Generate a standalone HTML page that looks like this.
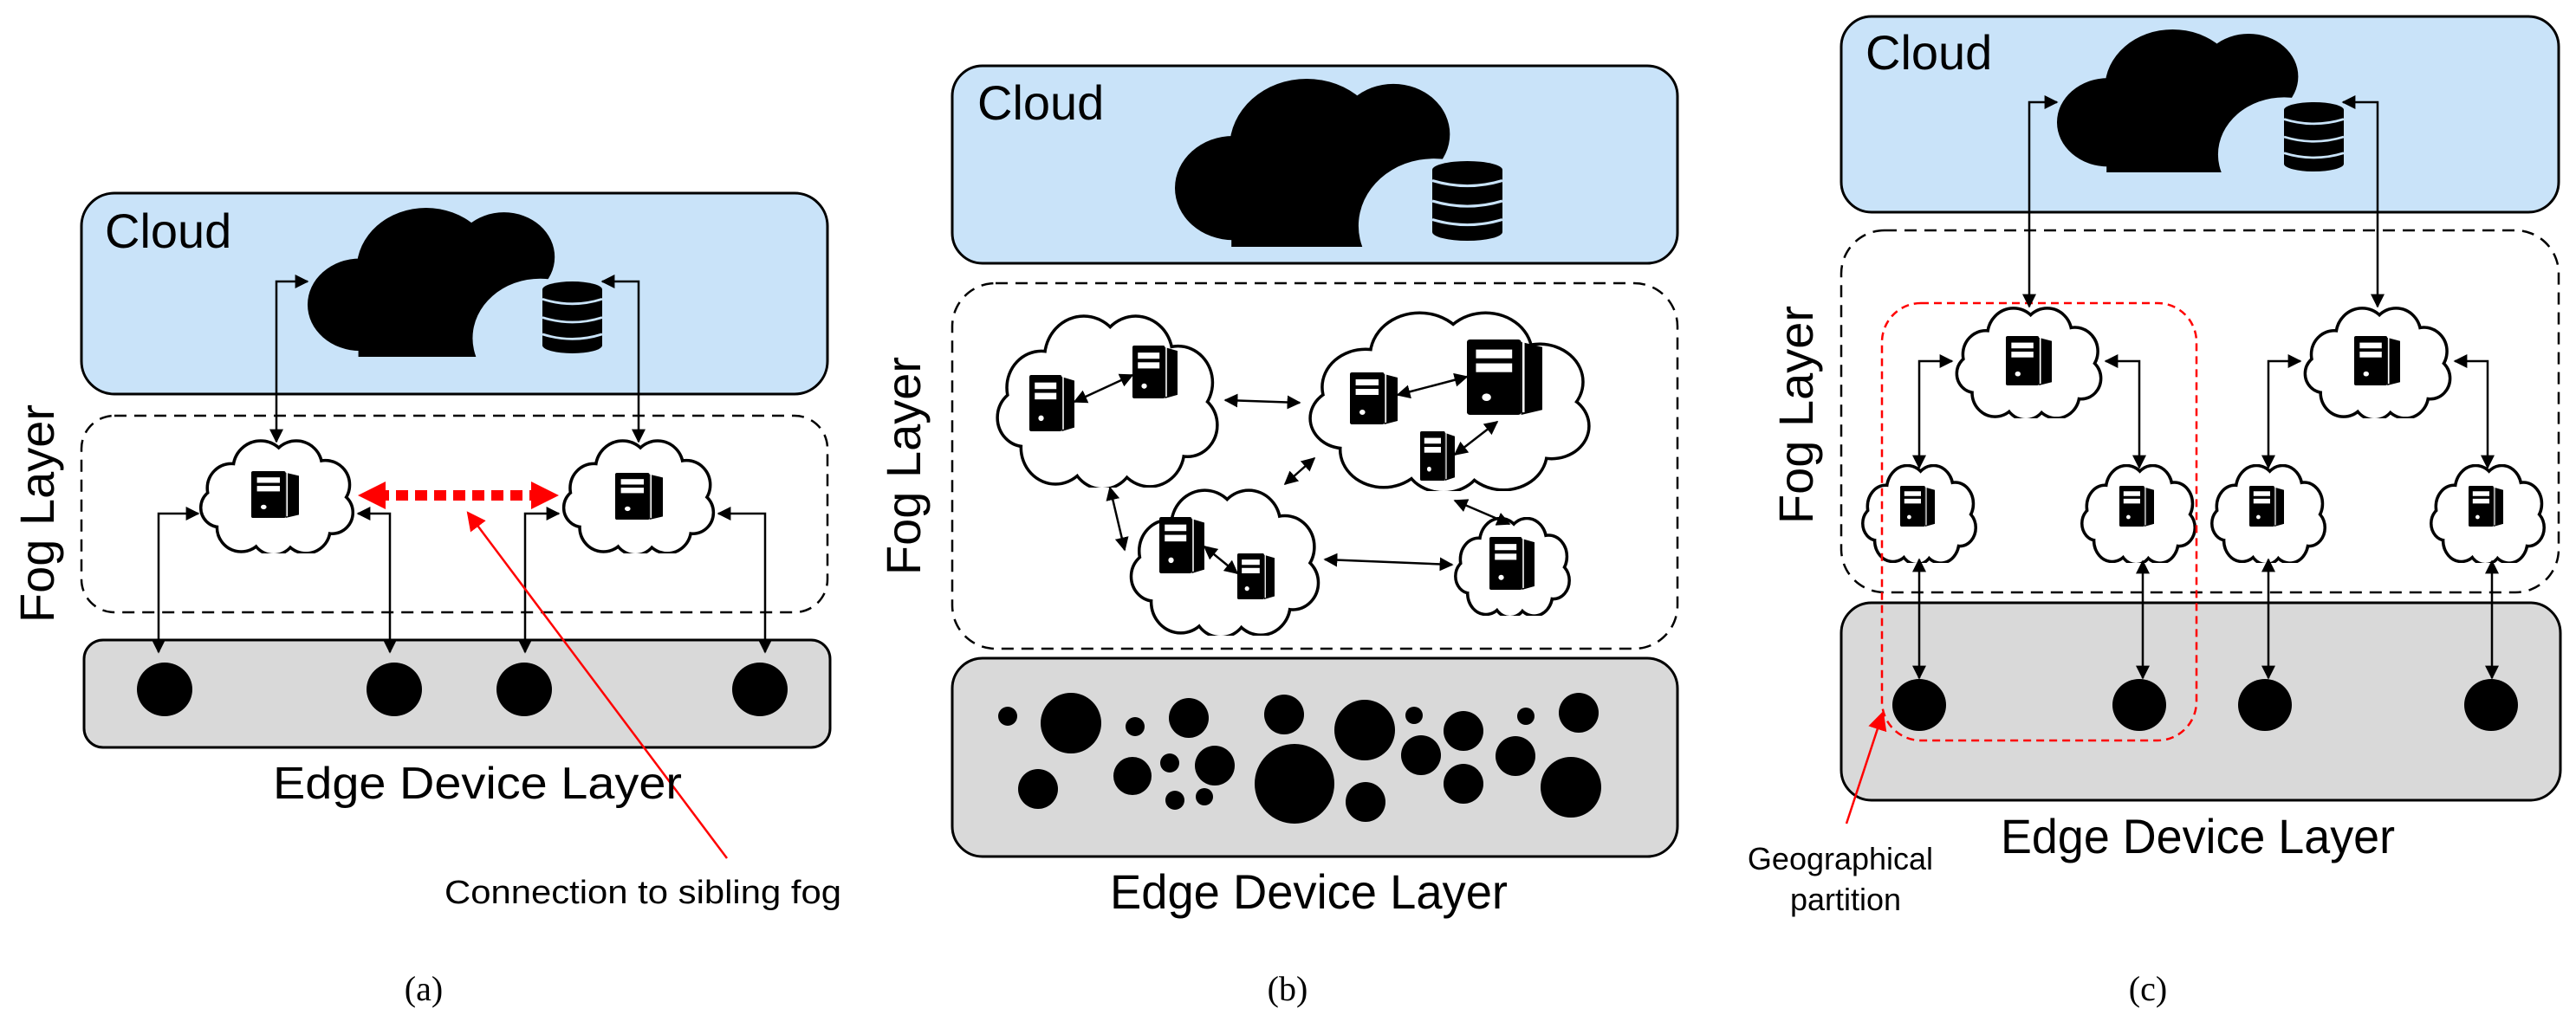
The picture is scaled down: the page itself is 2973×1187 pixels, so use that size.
<!DOCTYPE html>
<html><head><meta charset="utf-8"><style>
html,body{margin:0;padding:0;background:#fff;}
svg{display:block;}
text{font-family:"Liberation Sans",Arial,sans-serif;fill:#000;}
.ser{font-family:"Liberation Serif",serif;}
</style></head><body>
<svg width="2973" height="1187" viewBox="0 0 2973 1187" xmlns="http://www.w3.org/2000/svg">
<defs>
<marker id="ar" viewBox="0 0 10 10" refX="9" refY="5" markerWidth="16" markerHeight="16" markerUnits="userSpaceOnUse" orient="auto-start-reverse"><path d="M0,0 L10,5 L0,10 z" fill="#000"/></marker>
<marker id="rr" viewBox="0 0 10 10" refX="9" refY="5" markerWidth="22" markerHeight="22" markerUnits="userSpaceOnUse" orient="auto-start-reverse"><path d="M0,0 L10,5 L0,10 z" fill="#f00"/></marker>
<symbol id="big" viewBox="0 0 300 200" preserveAspectRatio="none">
<circle cx="62" cy="130" r="62" fill="#000"/>
<circle cx="140" cy="82" r="82" fill="#000"/>
<circle cx="232" cy="66" r="60" fill="#000"/>
<rect x="60" y="110" width="200" height="90" fill="#000"/>
<circle cx="275" cy="175" r="80" fill="#c9e3f9"/>
</symbol>
<symbol id="db" viewBox="0 0 70 90" preserveAspectRatio="none">
<rect x="0" y="10" width="70" height="70" fill="#000"/>
<ellipse cx="35" cy="10" rx="35" ry="10" fill="#000"/>
<ellipse cx="35" cy="80" rx="35" ry="10" fill="#000"/>
<path d="M0,22 Q35,34 70,22 M0,45 Q35,57 70,45 M0,66 Q35,78 70,66" stroke="#c9e3f9" stroke-width="3" fill="none"/>
</symbol>
<symbol id="fc" viewBox="0 0 100 70" preserveAspectRatio="none">
<g stroke="#000" stroke-width="7" fill="#fff">
<circle cx="22" cy="30" r="14" vector-effect="non-scaling-stroke"/><circle cx="40" cy="18" r="16" vector-effect="non-scaling-stroke"/><circle cx="62" cy="17" r="15" vector-effect="non-scaling-stroke"/><circle cx="80" cy="28" r="14" vector-effect="non-scaling-stroke"/><circle cx="84" cy="45" r="12" vector-effect="non-scaling-stroke"/><circle cx="68" cy="55" r="14" vector-effect="non-scaling-stroke"/><circle cx="48" cy="57" r="13" vector-effect="non-scaling-stroke"/><circle cx="28" cy="54" r="14" vector-effect="non-scaling-stroke"/><circle cx="15" cy="42" r="11" vector-effect="non-scaling-stroke"/>
</g>
<g fill="#fff">
<circle cx="22" cy="30" r="14"/><circle cx="40" cy="18" r="16"/><circle cx="62" cy="17" r="15"/><circle cx="80" cy="28" r="14"/><circle cx="84" cy="45" r="12"/><circle cx="68" cy="55" r="14"/><circle cx="48" cy="57" r="13"/><circle cx="28" cy="54" r="14"/><circle cx="15" cy="42" r="11"/>
<ellipse cx="50" cy="37" rx="36" ry="23"/>
</g>
</symbol>
<symbol id="sv" viewBox="0 0 50 60" preserveAspectRatio="none">
<rect x="0" y="0" width="36" height="60" rx="2" fill="#000"/>
<path d="M36,2 L50,6 L50,56 L36,60 z" fill="#000"/>
<rect x="6" y="8" width="24" height="7" fill="#fff"/>
<rect x="6" y="19" width="24" height="7" fill="#fff"/>
<circle cx="13" cy="46" r="3" fill="#fff"/>
<line x1="37.5" y1="2" x2="37.5" y2="58" stroke="#fff" stroke-width="1.5"/>
</symbol>
</defs>

<!-- ===== Panel (a) ===== -->
<rect x="94" y="223" width="861" height="232" rx="38" fill="#c9e3f9" stroke="#000" stroke-width="3"/>
<text x="121" y="286" font-size="56">Cloud</text>
<use href="#big" x="355" y="240" width="293" height="172"/>
<use href="#db" x="626" y="325" width="69" height="83"/>
<rect x="94" y="480" width="861" height="227" rx="38" fill="none" stroke="#000" stroke-width="2.5" stroke-dasharray="14 9"/>
<text transform="translate(62,593) rotate(-90)" font-size="56" text-anchor="middle">Fog Layer</text>
<rect x="97" y="739" width="861" height="124" rx="22" fill="#d9d9d9" stroke="#000" stroke-width="3"/>
<g fill="#000"><ellipse cx="190" cy="796" rx="32" ry="31"/><ellipse cx="455" cy="796" rx="32" ry="31"/><ellipse cx="605" cy="796" rx="32" ry="31"/><ellipse cx="877" cy="796" rx="32" ry="31"/></g>
<use href="#fc" x="226" y="507" width="187" height="132"/>
<use href="#fc" x="645" y="507" width="184" height="132"/>
<use href="#sv" x="290" y="544" width="55" height="54"/>
<use href="#sv" x="710" y="546" width="55" height="54"/>
<g stroke="#000" stroke-width="2.5" fill="none" marker-start="url(#ar)" marker-end="url(#ar)">
<path d="M355,325 H319 V510"/><path d="M695,325 H737 V510"/>
<path d="M229,593 H183 V753"/><path d="M413,593 H450 V753"/>
<path d="M645,593 H606 V753"/><path d="M829,593 H883 V753"/>
</g>
<line x1="435" y1="572" x2="625" y2="572" stroke="#f00" stroke-width="12" stroke-dasharray="14 8"/>
<path d="M413,572 L445,556 L445,588 z M645,572 L613,556 L613,588 z" fill="#f00"/>
<line x1="839" y1="991" x2="540" y2="592" stroke="#f00" stroke-width="2.5" marker-end="url(#rr)"/>
<text x="315" y="922" font-size="52" textLength="472" lengthAdjust="spacingAndGlyphs">Edge Device Layer</text>
<text x="513" y="1043" font-size="38" textLength="458" lengthAdjust="spacingAndGlyphs">Connection to sibling fog</text>
<text class="ser" x="489" y="1155" font-size="40" text-anchor="middle">(a)</text>

<!-- ===== Panel (b) ===== -->
<rect x="1099" y="76" width="837" height="228" rx="35" fill="#c9e3f9" stroke="#000" stroke-width="3"/>
<text x="1128" y="138" font-size="56">Cloud</text>
<use href="#big" x="1356" y="91" width="326" height="194"/>
<use href="#db" x="1653" y="186" width="81" height="92"/>
<rect x="1099" y="327" width="837" height="422" rx="50" fill="none" stroke="#000" stroke-width="2.5" stroke-dasharray="14 9"/>
<text transform="translate(1062,538) rotate(-90)" font-size="56" text-anchor="middle">Fog Layer</text>
<rect x="1099" y="760" width="837" height="229" rx="35" fill="#d9d9d9" stroke="#000" stroke-width="3"/>
<g fill="#000">
<circle cx="1163" cy="827" r="11"/><circle cx="1236" cy="835" r="35"/><circle cx="1310" cy="839" r="11"/><circle cx="1372" cy="829" r="23"/>
<circle cx="1198" cy="911" r="23"/><circle cx="1307" cy="896" r="22"/><circle cx="1350" cy="881" r="11"/><circle cx="1402" cy="884" r="23"/>
<circle cx="1356" cy="924" r="11"/><circle cx="1390" cy="920" r="10"/><circle cx="1482" cy="825" r="23"/><circle cx="1494" cy="905" r="46"/>
<circle cx="1575" cy="843" r="35"/><circle cx="1576" cy="926" r="23"/><circle cx="1632" cy="826" r="10"/><circle cx="1689" cy="844" r="23"/>
<circle cx="1640" cy="872" r="23"/><circle cx="1689" cy="905" r="23"/><circle cx="1761" cy="827" r="10"/><circle cx="1822" cy="823" r="23"/>
<circle cx="1749" cy="873" r="23"/><circle cx="1813" cy="909" r="35"/>
</g>
<use href="#fc" x="1142" y="361" width="272" height="202"/>
<use href="#fc" x="1500" y="357" width="346" height="210"/>
<use href="#fc" x="1298" y="563" width="231" height="171"/>
<use href="#fc" x="1676" y="597" width="139" height="114"/>
<use href="#sv" x="1188" y="433" width="52" height="65"/>
<use href="#sv" x="1307" y="399" width="52" height="61"/>
<use href="#sv" x="1558" y="430" width="55" height="60"/>
<use href="#sv" x="1693" y="392" width="87" height="87"/>
<use href="#sv" x="1639" y="498" width="40" height="57"/>
<use href="#sv" x="1338" y="597" width="52" height="65"/>
<use href="#sv" x="1428" y="639" width="43" height="53"/>
<use href="#sv" x="1719" y="620" width="52" height="61"/>
<g stroke="#000" stroke-width="2.5" fill="none" marker-start="url(#ar)" marker-end="url(#ar)">
<line x1="1414" y1="462" x2="1500" y2="465"/><line x1="1281" y1="563" x2="1298" y2="635"/>
<line x1="1483" y1="559" x2="1517" y2="529"/><line x1="1529" y1="646" x2="1676" y2="652"/>
<line x1="1679" y1="578" x2="1742" y2="605"/><line x1="1240" y1="464" x2="1307" y2="433"/>
<line x1="1613" y1="456" x2="1693" y2="435"/><line x1="1679" y1="525" x2="1728" y2="487"/>
<line x1="1390" y1="631" x2="1428" y2="662"/>
</g>
<text x="1281" y="1049" font-size="56" textLength="459" lengthAdjust="spacingAndGlyphs">Edge Device Layer</text>
<text class="ser" x="1486" y="1155" font-size="40" text-anchor="middle">(b)</text>

<!-- ===== Panel (c) ===== -->
<rect x="2125" y="19" width="828" height="226" rx="35" fill="#c9e3f9" stroke="#000" stroke-width="3"/>
<text x="2153" y="80" font-size="56">Cloud</text>
<use href="#big" x="2374" y="34" width="286" height="165"/>
<use href="#db" x="2636" y="118" width="69" height="80"/>
<rect x="2125" y="266" width="828" height="418" rx="50" fill="none" stroke="#000" stroke-width="2.5" stroke-dasharray="14 9"/>
<text transform="translate(2092,479) rotate(-90)" font-size="56" text-anchor="middle">Fog Layer</text>
<rect x="2125" y="696" width="830" height="228" rx="35" fill="#d9d9d9" stroke="#000" stroke-width="3"/>
<g fill="#000"><ellipse cx="2215" cy="814" rx="31" ry="30"/><ellipse cx="2469" cy="814" rx="31" ry="30"/><ellipse cx="2614" cy="814" rx="31" ry="30"/><ellipse cx="2875" cy="814" rx="31" ry="30"/></g>
<use href="#fc" x="2253" y="354" width="177" height="129"/>
<use href="#fc" x="2655" y="354" width="178" height="129"/>
<use href="#fc" x="2146" y="536" width="138" height="114"/>
<use href="#fc" x="2399" y="536" width="138" height="114"/>
<use href="#fc" x="2549" y="536" width="138" height="114"/>
<use href="#fc" x="2802" y="536" width="138" height="114"/>
<use href="#sv" x="2315" y="388" width="53" height="57"/>
<use href="#sv" x="2717" y="388" width="53" height="57"/>
<use href="#sv" x="2193" y="561" width="40" height="47"/>
<use href="#sv" x="2446" y="561" width="40" height="47"/>
<use href="#sv" x="2596" y="561" width="40" height="47"/>
<use href="#sv" x="2849" y="561" width="40" height="47"/>
<rect x="2172" y="350" width="363" height="505" rx="45" fill="none" stroke="#f00" stroke-width="2.5" stroke-dasharray="9 6"/>
<g stroke="#000" stroke-width="2.5" fill="none" marker-start="url(#ar)" marker-end="url(#ar)">
<path d="M2374,118 H2342 V354"/><path d="M2704,118 H2744 V354"/>
<path d="M2253,417 H2215 V540"/><path d="M2430,417 H2469 V540"/>
<path d="M2655,417 H2618 V540"/><path d="M2833,417 H2871 V540"/>
<line x1="2215" y1="646" x2="2215" y2="783"/><line x1="2473" y1="648" x2="2473" y2="783"/>
<line x1="2618" y1="646" x2="2618" y2="783"/><line x1="2876" y1="648" x2="2876" y2="783"/>
</g>
<line x1="2131" y1="951" x2="2173" y2="823" stroke="#f00" stroke-width="2.5" marker-end="url(#rr)"/>
<text x="2309" y="985" font-size="56" textLength="455" lengthAdjust="spacingAndGlyphs">Edge Device Layer</text>
<text x="2124" y="1004" font-size="36" text-anchor="middle">Geographical</text>
<text x="2130" y="1051" font-size="36" text-anchor="middle">partition</text>
<text class="ser" x="2479" y="1155" font-size="40" text-anchor="middle">(c)</text>
</svg>
</body></html>
